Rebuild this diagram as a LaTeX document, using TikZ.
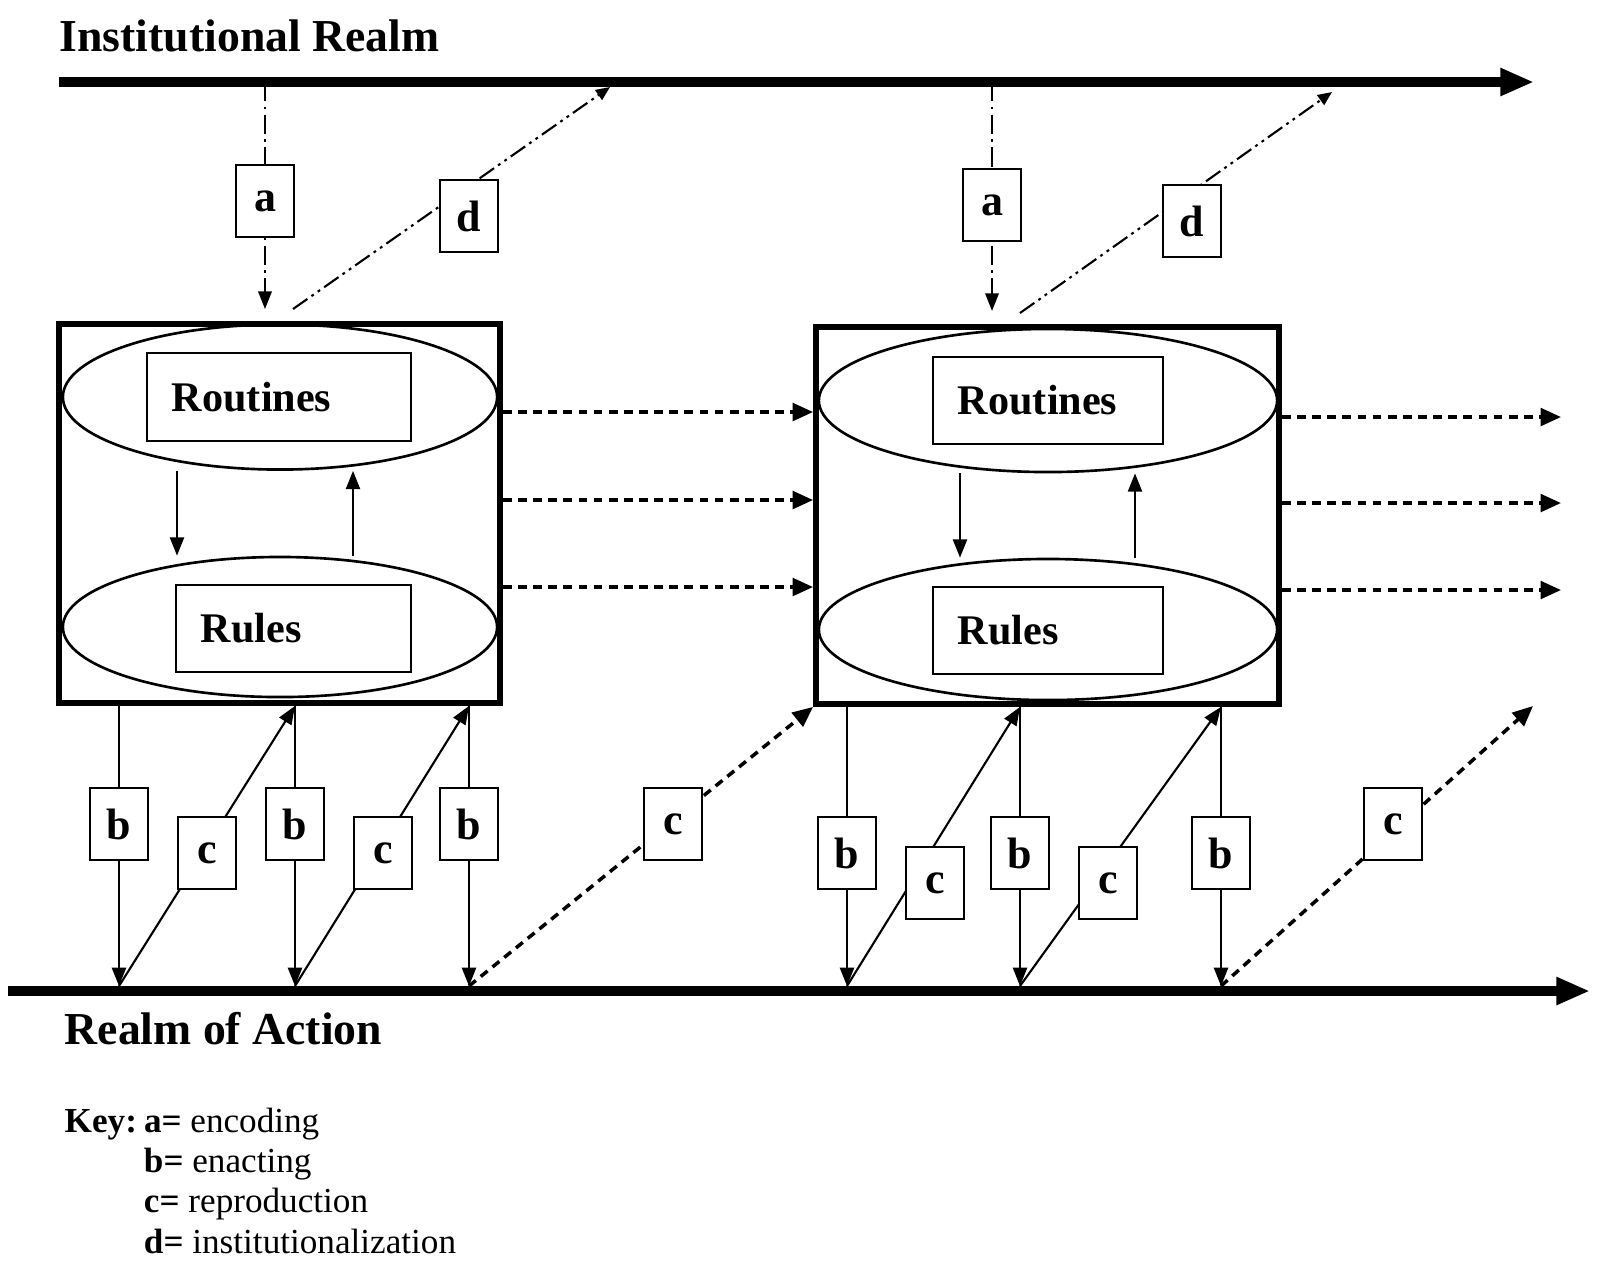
\documentclass[tikz,border=0pt]{standalone}
\usepackage{fontspec}
\setmainfont{Liberation Serif}
\usetikzlibrary{calc, positioning, shapes.geometric, arrows.meta, backgrounds}

\begin{document}
\begin{tikzpicture}[x=0.01cm, y=-0.01cm,
  realm/.style={line width=2.8pt, -{Triangle[length=9.6pt, width=7.4pt]}},
  frame/.style={draw, line width=1.6pt, inner sep=0pt},
  pool/.style={ellipse, draw, line width=0.75pt, inner sep=0pt},
  slot/.style={draw, line width=0.75pt, inner xsep=0.25cm, inner ysep=0pt, align=left, font=\fontsize{12}{14}\selectfont\bfseries},
  tag/.style={draw, fill=white, line width=0.75pt, inner sep=0pt, minimum width=0.58cm, minimum height=0.72cm, font=\fontsize{12.5}{14}\selectfont\bfseries},
  flow/.style={line width=0.6pt, -{Triangle[length=5.2pt, width=4pt]}},
  carry/.style={line width=1pt, dash pattern=on 2.5pt off 1.8pt, -{Triangle[length=5.8pt, width=5pt]}},
  encode/.style={line width=0.6pt, dash pattern=on 5.5pt off 1.5pt on 0.8pt off 1.5pt, -{Triangle[length=5pt, width=3.8pt]}},
  instit/.style={line width=0.6pt, dash pattern=on 5pt off 1.4pt on 0.8pt off 1.4pt on 0.8pt off 1.4pt, -{Triangle[length=4pt, width=3.4pt]}},
  heading/.style={anchor=base west, inner sep=0pt, font=\fontsize{13}{15}\selectfont\bfseries}]
  \useasboundingbox (0,0) rectangle (1600,1262);

  % Realm lines
  \coordinate (inst0) at (59,82);
  \coordinate (inst1) at (1534,82);
  \coordinate (act0) at (8,991);
  \coordinate (act9) at (1590,991);
  \node[heading] (insttitle) at (59,51) {Institutional Realm};
  \node[heading] (acttitle) at (64,1044) {Realm of Action};

  % Left frame
  \node[frame, minimum width=4.41cm, minimum height=3.79cm] (box1) at (279.5,513.5) {};
  \node[pool, minimum width=4.34cm, minimum height=1.45cm] (rout1) at (280,397) {};
  \node[pool, minimum width=4.34cm, minimum height=1.40cm] (rule1) at (280,627) {};
  \node[slot, text width=2.14cm, minimum height=0.88cm] (rtn1) at (279,397) {Routines};
  \node[slot, text width=1.85cm, minimum height=0.87cm] (rls1) at (293.5,628.5) {Rules};

  % Right frame
  \node[frame, minimum width=4.63cm, minimum height=3.77cm] (box2) at (1047.5,515.5) {};
  \node[pool, minimum width=4.58cm, minimum height=1.43cm] (rout2) at (1048,400.5) {};
  \node[pool, minimum width=4.58cm, minimum height=1.41cm] (rule2) at (1048,629.5) {};
  \node[slot, text width=1.80cm, minimum height=0.87cm] (rtn2) at (1048,400.5) {Routines};
  \node[slot, text width=1.80cm, minimum height=0.87cm] (rls2) at (1048,630.5) {Rules};

  % Encoding and institutionalization tags
  \node[tag] (a1) at (265,201) {a};
  \node[tag] (d1) at (469,216) {d};
  \node[tag] (a2) at (992,205) {a};
  \node[tag] (d2) at (1192,221) {d};

  % Enacting and reproduction tags
  \node[tag] (b1) at (119,824) {b};
  \node[tag] (c1) at (207,853) {c};
  \node[tag] (b2) at (295,824) {b};
  \node[tag] (c2) at (383,853) {c};
  \node[tag] (b3) at (469,824) {b};
  \node[tag] (c3) at (673,824) {c};
  \node[tag] (b4) at (847,853) {b};
  \node[tag] (c4) at (935,883) {c};
  \node[tag] (b5) at (1020,853) {b};
  \node[tag] (c5) at (1108,883) {c};
  \node[tag] (b6) at (1221,853) {b};
  \node[tag] (c6) at (1393,824) {c};

  % Key
  \node[anchor=base west, inner sep=0pt, font=\fontsize{10}{11.5}\selectfont] (key) at (64,1132)
    {\begin{tabular}[t]{@{}l@{\hspace{2pt}}l@{}}\textbf{Key:} & \textbf{a=} encoding\\ & \textbf{b=} enacting\\ & \textbf{c=} reproduction\\ & \textbf{d=} institutionalization\end{tabular}};

  % Free ends
  \coordinate (a1top) at (265,82);  \coordinate (a1end) at (265,309);
  \coordinate (a2top) at (992,82);  \coordinate (a2end) at (992,311);
  \coordinate (d1beg) at (293,309); \coordinate (d1end) at (610,87);
  \coordinate (d2beg) at (1020,313); \coordinate (d2end) at (1332,92);
  \coordinate (act1) at (119,986); \coordinate (act2) at (295,986); \coordinate (act3) at (469,986);
  \coordinate (act4) at (847,986); \coordinate (act5) at (1020,986); \coordinate (act6) at (1221,986);
  \coordinate (c6end) at (1533,706);
  \coordinate (row1) at (0,412); \coordinate (row2) at (0,500); \coordinate (row3) at (0,587);
  \coordinate (out1) at (1561,417); \coordinate (out2) at (1561,503); \coordinate (out3) at (1561,590);

  \draw[realm] (inst0) -- (inst1);
  \draw[realm] (act0) -- (act9);

  \begin{scope}[on background layer]
    % a and d
    \draw[encode] (a1top) -- (a1end);
    \draw[encode] (a2top) -- (a2end);
    \draw[instit] (d1beg) -- (d1end);
    \draw[instit] (d2beg) -- (d2end);

    % inside the frames
    \draw[flow] ($(rout1.south)+(-103,0)$) -- ($(rule1.north)+(-103,0)$);
    \draw[flow] ($(rule1.north)+(73,0)$) -- ($(rout1.south)+(73,0)$);
    \draw[flow] ($(rout2.south)+(-88,0)$) -- ($(rule2.north)+(-88,0)$);
    \draw[flow] ($(rule2.north)+(87,0)$) -- ($(rout2.south)+(87,0)$);

    % frame to frame
    \draw[carry] (box1.east |- row1) -- (box2.west |- row1);
    \draw[carry] (box1.east |- row2) -- (box2.west |- row2);
    \draw[carry] (box1.east |- row3) -- (box2.west |- row3);
    \draw[carry] (box2.east |- out1) -- (out1);
    \draw[carry] (box2.east |- out2) -- (out2);
    \draw[carry] (box2.east |- out3) -- (out3);

    % b
    \draw[flow] (act1 |- box1.south) -- (act1);
    \draw[flow] (act2 |- box1.south) -- (act2);
    \draw[flow] (act3 |- box1.south) -- (act3);
    \draw[flow] (act4 |- box2.south) -- (act4);
    \draw[flow] (act5 |- box2.south) -- (act5);
    \draw[flow] (act6 |- box2.south) -- (act6);

    % c
    \draw[flow] (act1) -- (act2 |- box1.south);
    \draw[flow] (act2) -- (act3 |- box1.south);
    \draw[carry] (act3) -- (box2.south west);
    \draw[flow] (act4) -- (act5 |- box2.south);
    \draw[flow] (act5) -- (act6 |- box2.south);
    \draw[carry] (act6) -- (c6end);
  \end{scope}
\end{tikzpicture}
\end{document}
